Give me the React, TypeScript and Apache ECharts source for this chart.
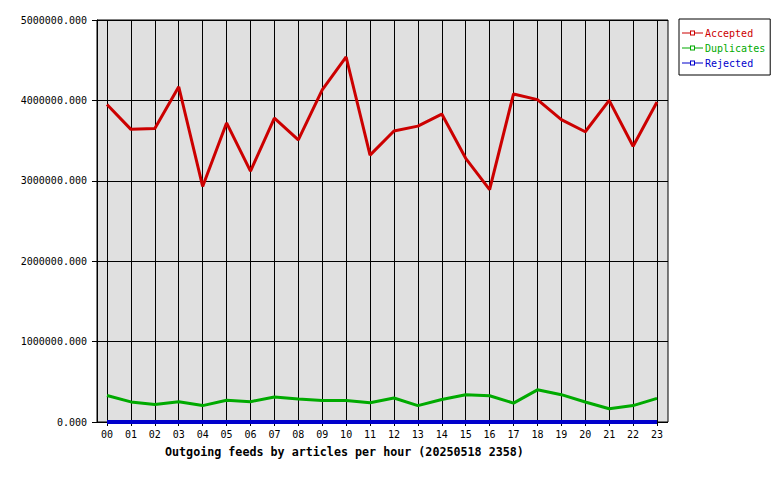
import React, { useEffect, useRef } from "react";
import * as echarts from "echarts";

const hours = ["00","01","02","03","04","05","06","07","08","09","10","11","12","13","14","15","16","17","18","19","20","21","22","23"];
const accepted = [3950000, 3640000, 3650000, 4170000, 2930000, 3720000, 3120000, 3780000, 3510000, 4130000, 4540000, 3320000, 3620000, 3680000, 3830000, 3280000, 2890000, 4080000, 4010000, 3760000, 3610000, 4000000, 3430000, 3980000];
const duplicates = [330000, 250000, 217000, 253000, 204000, 271000, 253000, 312000, 285000, 267000, 267000, 240000, 298000, 204000, 280000, 340000, 326000, 235000, 400000, 340000, 249000, 165000, 204000, 294000];
const rejected = [0, 0, 0, 0, 0, 0, 0, 0, 0, 0, 0, 0, 0, 0, 0, 0, 0, 0, 0, 0, 0, 0, 0, 0];
const seriesNames = ["Accepted", "Duplicates", "Rejected"];
const colors = ["#cc0000", "#00aa00", "#0000cc"];
const titleText = "Outgoing feeds by articles per hour (20250518 2358)";

const FONT = "DejaVu Sans Mono";
const legendIcon = "path://M0,2h8v1h-8z M8,0h5v5h-5z M9,1v3h3v-3z M13,2h8v1h-8z";

export default function App() {
  const ref = useRef<HTMLDivElement>(null);
  useEffect(() => {
    if (!ref.current) return;
    const chart = echarts.init(ref.current, null, { renderer: "svg" });
    const values = [accepted, duplicates, rejected];
    chart.setOption({
      animation: false,
      backgroundColor: "#ffffff",
      title: {
        text: titleText,
        left: 165,
        top: 446,
        padding: 0,
        textStyle: { fontFamily: FONT, fontSize: 11.7, fontWeight: "bold", color: "#000" },
      },
      legend: {
        orient: "vertical",
        left: 679,
        top: 19,
        padding: [8, 5, 6, 3],
        itemGap: 3,
        itemWidth: 21,
        itemHeight: 5,
        selectedMode: false,
        backgroundColor: "#ffffff",
        borderColor: "#000000",
        borderWidth: 1,
        borderRadius: 0,
        textStyle: { fontFamily: FONT, fontSize: 10, lineHeight: 12, padding: [0, 0, 0, -3] },
        data: seriesNames.map((n, i) => ({
          name: n,
          icon: legendIcon,
          itemStyle: { color: colors[i] },
          textStyle: { color: colors[i] },
        })),
      },
      grid: [
        {
          left: 97, right: 112, top: 20, bottom: 58,
          show: true, backgroundColor: "#e0e0e0", borderColor: "#000", borderWidth: 1,
        },
        { left: 107, right: 123, top: 20, bottom: 58 },
      ],
      xAxis: [
        { type: "value", gridIndex: 0, min: 0, max: 1, show: false },
        {
          type: "category",
          gridIndex: 1,
          data: hours,
          boundaryGap: false,
          axisLine: { show: false },
          axisTick: { show: true, length: 4, interval: 0, lineStyle: { color: "#000" } },
          axisLabel: { interval: 0, margin: 7, fontFamily: FONT, fontSize: 10, color: "#000" },
          splitLine: { show: true, interval: 0, lineStyle: { color: "#000", width: 1 } },
        },
      ],
      yAxis: [
        {
          type: "value",
          gridIndex: 0,
          min: 0,
          max: 5000000,
          interval: 1000000,
          axisLine: { show: true, lineStyle: { color: "#000" } },
          axisTick: { show: true, length: 5, lineStyle: { color: "#000" } },
          axisLabel: {
            margin: 10,
            fontFamily: FONT,
            fontSize: 10,
            color: "#000",
            formatter: (v: number) => v.toFixed(3),
          },
          splitLine: { show: true, lineStyle: { color: "#000", width: 1 } },
        },
        { type: "value", gridIndex: 1, min: 0, max: 5000000, show: false },
      ],
      series: seriesNames.map((n, i) => ({
        name: n,
        type: "line",
        xAxisIndex: 1,
        yAxisIndex: 1,
        data: values[i],
        symbol: "none",
        clip: false,
        lineStyle: { color: colors[i], width: i === 2 ? 4 : 3 },
        itemStyle: { color: colors[i] },
        z: 3 + i,
      })),
    });
    return () => chart.dispose();
  }, []);
  return <div ref={ref} style={{ width: 780, height: 480, position: "absolute", left: 0, top: 0 }} />;
}
